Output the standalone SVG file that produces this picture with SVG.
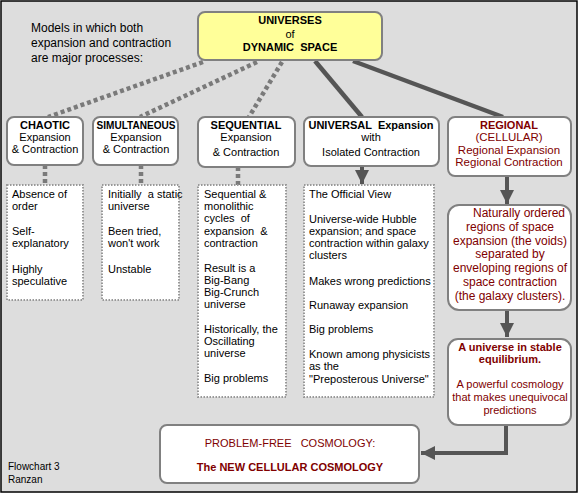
<svg xmlns="http://www.w3.org/2000/svg" width="580" height="494" viewBox="0 0 580 494">
<defs>
<style>
text{font-family:"Liberation Sans",Arial,sans-serif;font-size:11px;fill:#000}
.b{font-weight:bold}
.r{fill:#800000}
.c{text-anchor:middle}
.box{fill:#fff;stroke:#808080;stroke-width:2}
.list{fill:#fff;stroke:#999;stroke-width:2;stroke-dasharray:1.5 1.5}
.dot{stroke:#7a7a7a;stroke-width:4.5;stroke-dasharray:4 3;fill:none}
.sol{stroke:#555;stroke-width:4.5;fill:none}
.arr{stroke:#555;stroke-width:4;fill:none}
.m{font-size:11.5px}
</style>
<marker id="ah" viewBox="0 0 10 10" refX="10" refY="5" markerWidth="3.5" markerHeight="3.5" orient="auto" markerUnits="strokeWidth">
<path d="M0,0 L10,5 L0,10 z" fill="#555"/>
</marker>
</defs>
<rect x="1" y="1" width="576" height="491" fill="#dddddd" stroke="#000" stroke-width="1.5"/>
<text x="31" y="32" style="font-size:12px">Models in which both</text>
<text x="31" y="47" style="font-size:12px">expansion and contraction</text>
<text x="31" y="62" style="font-size:12px">are major processes:</text>
<text x="8" y="470" style="font-size:10px">Flowchart 3</text>
<text x="8" y="483" style="font-size:10px">Ranzan</text>

<g id="connectors">
<line class="dot" x1="203" y1="62" x2="48" y2="117"/>
<line class="dot" x1="257" y1="62" x2="140" y2="117"/>
<line class="dot" x1="282" y1="62" x2="249" y2="117"/>
<line class="sol" x1="315" y1="61" x2="362" y2="117"/>
<line class="sol" x1="353" y1="61" x2="503" y2="117"/>
<line class="dot" x1="45" y1="165" x2="45" y2="185"/>
<line class="dot" x1="141" y1="165" x2="141" y2="185"/>
<line class="dot" x1="238" y1="167" x2="238" y2="185"/>
<line class="arr" x1="362" y1="166" x2="362" y2="184" marker-end="url(#ah)"/>
<line class="arr" x1="507" y1="176" x2="507" y2="204" marker-end="url(#ah)"/>
<line class="arr" x1="507" y1="310" x2="507" y2="337" marker-end="url(#ah)"/>
<polyline class="arr" points="506,425 506,453 421,453" marker-end="url(#ah)"/>
</g>

<g id="top">
<rect x="198" y="12" width="184" height="48" rx="7" fill="#ffff99" stroke="#808080" stroke-width="2"/>
<text class="b c" x="290" y="24">UNIVERSES</text>
<text class="c" x="290" y="38">of</text>
<text class="b c" x="290" y="51" xml:space="preserve">DYNAMIC  SPACE</text>
</g>

<g id="chaotic">
<rect class="box" x="7" y="117" width="76" height="48" rx="7"/>
<text class="b c" x="45" y="129">CHAOTIC</text>
<text class="c" x="45" y="141">Expansion</text>
<text class="c" x="45" y="153">&amp; Contraction</text>
</g>
<g id="simultaneous">
<rect class="box" x="93" y="117" width="85" height="48" rx="7"/>
<text class="b c" x="136" y="129" textLength="79" lengthAdjust="spacingAndGlyphs">SIMULTANEOUS</text>
<text class="c" x="136" y="141">Expansion</text>
<text class="c" x="136" y="153">&amp; Contraction</text>
</g>
<g id="sequential">
<rect class="box" x="198" y="117" width="97" height="50" rx="7"/>
<text class="b c" x="246" y="129">SEQUENTIAL</text>
<text class="c" x="246" y="141">Expansion</text>
<text class="c" x="246" y="156">&amp; Contraction</text>
</g>
<g id="universal">
<rect class="box" x="304" y="117" width="135" height="49" rx="7"/>
<text class="b c" x="371" y="129" xml:space="preserve">UNIVERSAL  Expansion</text>
<text class="c" x="371" y="141">with</text>
<text class="c" x="371" y="156">Isolated Contraction</text>
</g>
<g id="regional">
<rect class="box" x="448" y="117" width="123" height="59" rx="7"/>
<text class="b c r" x="509" y="129">REGIONAL</text>
<text class="c r m" x="509" y="141">(CELLULAR)</text>
<text class="c r m" x="509" y="154">Regional Expansion</text>
<text class="c r m" x="509" y="166">Regional Contraction</text>
</g>

<g id="chaotic-list">
<rect class="list" x="7" y="185" width="76" height="115"/>
<text x="12" y="198">Absence of</text>
<text x="12" y="210">order</text>
<text x="12" y="235">Self-</text>
<text x="12" y="247">explanatory</text>
<text x="12" y="273">Highly</text>
<text x="12" y="285">speculative</text>
</g>
<g id="simultaneous-list">
<rect class="list" x="102" y="185" width="77" height="115"/>
<text x="108" y="198" xml:space="preserve">Initially  a static</text>
<text x="108" y="210">universe</text>
<text x="108" y="235">Been tried,</text>
<text x="108" y="247">won't work</text>
<text x="108" y="273">Unstable</text>
</g>
<g id="sequential-list">
<rect class="list" x="198" y="185" width="88" height="212"/>
<text x="204" y="198">Sequential &amp;</text>
<text x="204" y="210">monolithic</text>
<text x="204" y="222" xml:space="preserve">cycles  of</text>
<text x="204" y="235" xml:space="preserve">expansion  &amp;</text>
<text x="204" y="247">contraction</text>
<text x="204" y="272">Result is a</text>
<text x="204" y="284">Big-Bang</text>
<text x="204" y="296">Big-Crunch</text>
<text x="204" y="308">universe</text>
<text x="204" y="333">Historically, the</text>
<text x="204" y="345">Oscillating</text>
<text x="204" y="357">universe</text>
<text x="204" y="382">Big problems</text>
</g>
<g id="universal-list">
<rect class="list" x="304" y="185" width="130" height="212"/>
<text x="309" y="198">The Official View</text>
<text x="309" y="223">Universe-wide Hubble</text>
<text x="309" y="235">expansion; and space</text>
<text x="309" y="247">contraction within galaxy</text>
<text x="309" y="259">clusters</text>
<text x="309" y="285">Makes wrong predictions</text>
<text x="309" y="309">Runaway expansion</text>
<text x="309" y="333">Big problems</text>
<text x="309" y="358">Known among physicists</text>
<text x="309" y="370">as the</text>
<text x="309" y="383">"Preposterous Universe"</text>
</g>

<g id="regional-desc">
<rect class="box" x="448" y="205" width="123" height="105" rx="11"/>
<text class="c r" x="519" y="217" style="font-size:12px">Naturally ordered</text>
<text class="c r" x="510" y="231" style="font-size:12px">regions of space</text>
<text class="c r" x="510" y="245" style="font-size:12px">expansion (the voids)</text>
<text class="c r" x="510" y="258" style="font-size:12px">separated by</text>
<text class="c r" x="510" y="272" style="font-size:12px">enveloping regions of</text>
<text class="c r" x="510" y="286" style="font-size:12px">space contraction</text>
<text class="c r" x="510" y="300" style="font-size:12px">(the galaxy clusters).</text>
</g>

<g id="equilibrium">
<rect class="box" x="448" y="339" width="123" height="86" rx="10"/>
<text class="b c r" x="510" y="351">A universe in stable</text>
<text class="b c r" x="510" y="363">equilibrium.</text>
<text class="c r" x="510" y="388">A powerful cosmology</text>
<text class="c r" x="510" y="401">that makes unequivocal</text>
<text class="c r" x="510" y="414">predictions</text>
</g>

<g id="result">
<rect class="box" x="160" y="425" width="259" height="58" rx="7"/>
<text class="c r" x="290" y="447" xml:space="preserve">PROBLEM-FREE   COSMOLOGY:</text>
<text class="b c r" x="290" y="471">The NEW CELLULAR COSMOLOGY</text>
</g>
</svg>
